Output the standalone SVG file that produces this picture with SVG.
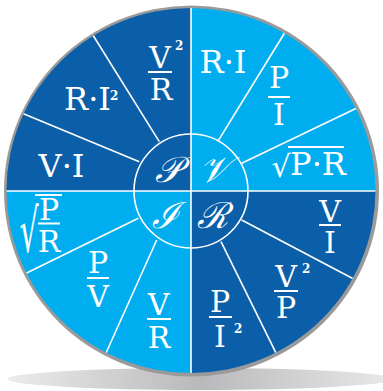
<svg xmlns="http://www.w3.org/2000/svg" width="383" height="391" viewBox="0 0 383 391">
<defs>
<linearGradient id="shadow" x1="0" y1="0" x2="1" y2="0">
<stop offset="0" stop-color="#ececec"/>
<stop offset="0.5" stop-color="#b9b9bb"/>
<stop offset="1" stop-color="#e9e9ea"/>
</linearGradient>
<clipPath id="disc"><ellipse cx="191" cy="190.5" rx="184.5" ry="182.5"/></clipPath>
<style>
.dark{fill:#0B5EA8}
.light{fill:#00AEEF}
.sp{stroke:#fff;stroke-width:1.6;fill:none}
.t{fill:#fff;text-anchor:middle}
.m{font-size:32px}
.f{font-size:30px}
.sup{font-weight:bold;font-size:12px;fill:#fff}
.bar{fill:#fff}
.c{font-style:italic;font-size:36px;fill:#fff;text-anchor:middle}
</style>
</defs>
<ellipse cx="200" cy="379" rx="193" ry="11" fill="url(#shadow)"/>
<ellipse cx="191.5" cy="191" rx="187.5" ry="185.5" fill="#9a9a9a"/>
<g clip-path="url(#disc)">
<g id="quad-P"><rect class="dark" x="0" y="0" width="191" height="191"/></g>
<g id="quad-V"><rect class="light" x="191" y="0" width="192" height="191"/></g>
<g id="quad-I"><rect class="light" x="0" y="191" width="191" height="200"/></g>
<g id="quad-R"><rect class="dark" x="191" y="191" width="192" height="200"/></g>
<g id="connectors">
<line class="sp" x1="191" y1="0" x2="191" y2="391"/>
<line class="sp" x1="0" y1="191" x2="383" y2="191"/>
<line class="sp" x1="159.3" y1="141.7" x2="91" y2="32"/>
<line class="sp" x1="139.3" y1="161.7" x2="18" y2="111.5"/>
<line class="sp" x1="218.3" y1="140.7" x2="285.5" y2="31.5"/>
<line class="sp" x1="241.7" y1="163.3" x2="359" y2="107"/>
<line class="sp" x1="138.3" y1="218.3" x2="21" y2="275.8"/>
<line class="sp" x1="156.7" y1="240" x2="104" y2="357.5"/>
<line class="sp" x1="241.7" y1="220" x2="357" y2="280.8"/>
<line class="sp" x1="221" y1="241.7" x2="278.3" y2="357.6"/>
<circle class="sp" cx="191" cy="191" r="57"/>
</g>
</g>
<g font-family="DejaVu Serif, Liberation Serif, serif">
<g id="node-P">
<text class="c" x="167.5" y="182">𝒫</text>
</g>
<g id="node-V">
<text class="c" x="213.5" y="182">𝒱</text>
</g>
<g id="node-I">
<text class="c" x="165" y="228">ℐ</text>
</g>
<g id="node-R">
<text class="c" x="212.5" y="228">ℛ</text>
</g>
<g id="p-v2r">
<text class="t f" x="160" y="68">V</text>
<rect class="bar" x="148" y="71" width="24" height="2"/>
<text class="t f" x="161" y="100">R</text>
<text class="sup" x="175" y="50">2</text>
</g>
<g id="p-ri2">
<text class="t m" x="87.5" y="110">R·I</text>
<text class="sup" x="110" y="100">2</text>
</g>
<g id="p-vi">
<text class="t m" x="61.5" y="177">V·I</text>
</g>
<g id="v-ri">
<text class="t m" x="223" y="73">R·I</text>
</g>
<g id="v-pi">
<text class="t f" x="279" y="88">P</text>
<rect class="bar" x="268" y="96" width="22" height="2"/>
<text class="t f" x="279" y="125">I</text>
</g>
<g id="v-sqrtpr">
<text class="t" x="281" y="177" font-size="30">√</text>
<rect class="bar" x="288" y="146" width="56" height="2"/>
<text class="t m" x="318" y="175">P·R</text>
</g>
<g id="i-sqrtpr">
<text class="t" x="0" y="0" font-size="30" transform="translate(29,252) scale(1,2)">√</text>
<rect class="bar" x="35" y="194" width="27" height="2"/>
<text class="t f" x="49" y="220">P</text>
<rect class="bar" x="38" y="222.5" width="22" height="2"/>
<text class="t f" x="49" y="252">R</text>
</g>
<g id="i-pv">
<text class="t f" x="98" y="273">P</text>
<rect class="bar" x="87" y="277" width="22" height="2"/>
<text class="t f" x="98" y="307">V</text>
</g>
<g id="i-vr">
<text class="t f" x="158.5" y="315">V</text>
<rect class="bar" x="147" y="318" width="24" height="2"/>
<text class="t f" x="159" y="348">R</text>
</g>
<g id="r-vi">
<text class="t f" x="330" y="222">V</text>
<rect class="bar" x="319" y="224" width="22" height="2"/>
<text class="t f" x="330" y="253">I</text>
</g>
<g id="r-v2p">
<text class="t f" x="286" y="287">V</text>
<text class="sup" x="302" y="273">2</text>
<rect class="bar" x="274" y="290" width="24" height="2"/>
<text class="t f" x="286" y="318">P</text>
</g>
<g id="r-pi2">
<text class="t f" x="220" y="312">P</text>
<rect class="bar" x="209" y="316" width="23" height="2"/>
<text class="t f" x="220" y="347">I</text>
<text class="sup" x="234" y="333">2</text>
</g>
</g>
</svg>
